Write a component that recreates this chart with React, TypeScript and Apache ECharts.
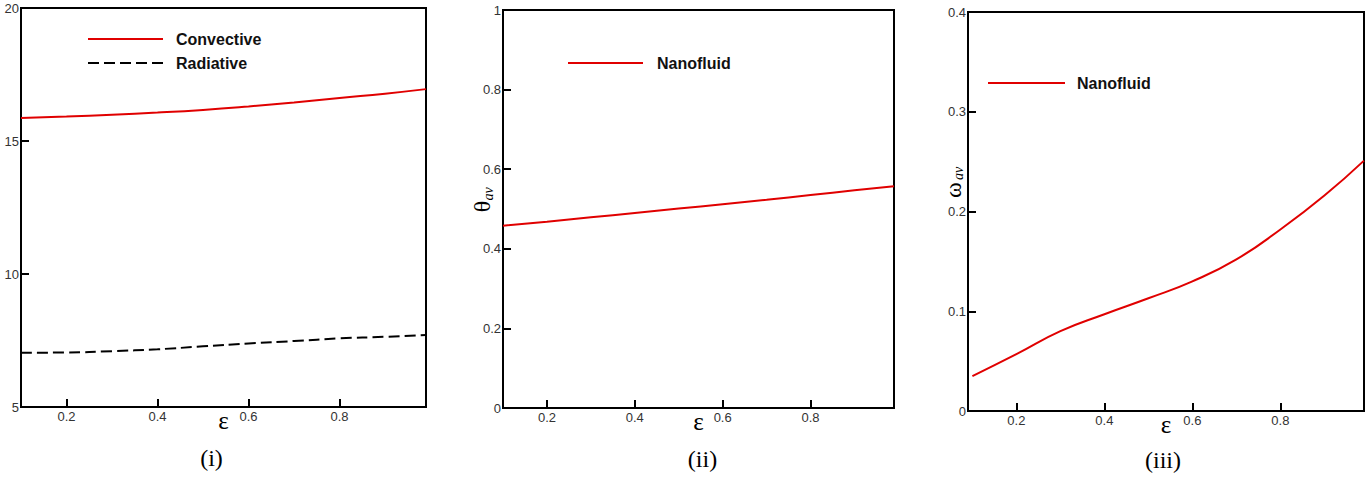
import React, { useEffect, useRef } from "react";
import * as echarts from "echarts";

// ---- data ----
const eps = [0.1, 0.2, 0.3, 0.4, 0.5, 0.6, 0.7, 0.8, 0.9, 0.99];
const convective = [15.86, 15.92, 15.99, 16.07, 16.17, 16.3, 16.45, 16.62, 16.78, 16.95];
const radiative = [7.04, 7.05, 7.1, 7.17, 7.28, 7.39, 7.48, 7.58, 7.64, 7.71];
const thetaAv = [0.458, 0.468, 0.479, 0.49, 0.501, 0.512, 0.523, 0.535, 0.547, 0.557];
const omegaAv = [0.035, 0.057, 0.08, 0.097, 0.113, 0.13, 0.152, 0.182, 0.216, 0.251];
const xTicks = [0.2, 0.4, 0.6, 0.8];
const captions = ["(i)", "(ii)", "(iii)"];
const legendNames = ["Convective", "Radiative", "Nanofluid"];

const RED = "#e00000";
const pairs = (ys: number[]) => eps.map((x, i) => [x, ys[i]]);

export default function App() {
  const ref = useRef<HTMLDivElement>(null);
  useEffect(() => {
    const chart = echarts.init(ref.current!, null, { renderer: "svg" });
    const grids = [
      { left: 21, top: 8, width: 405, height: 399 },
      { left: 503, top: 10, width: 391, height: 398 },
      { left: 968, top: 12, width: 396, height: 399 },
    ];
    const xMins = [0.1, 0.1, 0.09];
    const yDefs = [
      { min: 5, max: 20, interval: 5 },
      { min: 0, max: 1, interval: 0.2 },
      { min: 0, max: 0.4, interval: 0.1 },
    ];
    const lbl = { fontFamily: "Liberation Sans", fontSize: 13, color: "#333" };
    const legText = { fontFamily: "Liberation Sans", fontWeight: "bold", fontSize: 16, fill: "#111", verticalAlign: "middle" };
    const option: any = {
      animation: false,
      backgroundColor: "#fff",
      grid: grids.map((g) => ({ ...g, show: true, borderColor: "#000", borderWidth: 2, backgroundColor: "transparent" })),
      xAxis: grids.map((_, i) => ({
        type: "value",
        gridIndex: i,
        min: xMins[i],
        max: 0.99,
        name: "ε",
        nameLocation: "middle",
        nameGap: 1,
        nameMoveOverlap: false,
        nameTextStyle: { fontFamily: "Liberation Serif", fontSize: 25, color: "#000" },
        axisLine: { show: true, onZero: false, lineStyle: { color: "#000", width: 2 } },
        axisTick: { show: true, inside: true, length: 8, customValues: xTicks, lineStyle: { color: "#000", width: 2 } },
        axisLabel: { ...lbl, margin: 3, customValues: xTicks },
        splitLine: { show: false },
      })),
      yAxis: grids.map((_, i) => ({
        type: "value",
        gridIndex: i,
        ...yDefs[i],
        axisLine: { show: true, onZero: false, lineStyle: { color: "#000", width: 2 } },
        axisTick: { show: true, inside: true, length: 8, lineStyle: { color: "#000", width: 2 } },
        axisLabel: { ...lbl, margin: 2 },
        splitLine: { show: false },
      })),
      series: [
        { name: legendNames[0], type: "line", xAxisIndex: 0, yAxisIndex: 0, data: pairs(convective), smooth: true, symbol: "none", lineStyle: { color: RED, width: 2 } },
        { name: legendNames[1], type: "line", xAxisIndex: 0, yAxisIndex: 0, data: pairs(radiative), smooth: true, symbol: "none", lineStyle: { color: "#000", width: 2, type: [11, 5] } },
        { name: legendNames[2], type: "line", xAxisIndex: 1, yAxisIndex: 1, data: pairs(thetaAv), smooth: true, symbol: "none", lineStyle: { color: RED, width: 2 } },
        { name: legendNames[2], type: "line", xAxisIndex: 2, yAxisIndex: 2, data: pairs(omegaAv), smooth: true, symbol: "none", lineStyle: { color: RED, width: 2 } },
      ],
      graphic: [
        // legends
        { type: "line", shape: { x1: 88, y1: 39, x2: 163, y2: 39 }, style: { stroke: RED, lineWidth: 2 } },
        { type: "text", x: 176, y: 39, style: { ...legText, text: legendNames[0] } },
        { type: "line", shape: { x1: 88, y1: 63, x2: 163, y2: 63 }, style: { stroke: "#000", lineWidth: 2, lineDash: [11, 5] } },
        { type: "text", x: 176, y: 63, style: { ...legText, text: legendNames[1] } },
        { type: "line", shape: { x1: 568, y1: 63, x2: 643, y2: 63 }, style: { stroke: RED, lineWidth: 2 } },
        { type: "text", x: 657, y: 63, style: { ...legText, text: legendNames[2] } },
        { type: "line", shape: { x1: 988, y1: 83, x2: 1065, y2: 83 }, style: { stroke: RED, lineWidth: 2 } },
        { type: "text", x: 1077, y: 83, style: { ...legText, text: legendNames[2] } },
        // y-axis names
        { type: "text", x: 481.5, y: 206.5, rotation: Math.PI / 2, style: { text: "θ", fontFamily: "Liberation Serif", fontSize: 24, fill: "#000", align: "center", verticalAlign: "middle" } },
        { type: "text", x: 488, y: 194, rotation: Math.PI / 2, style: { text: "av", fontFamily: "Liberation Serif", fontStyle: "italic", fontSize: 14, fill: "#000", align: "center", verticalAlign: "middle" } },
        { type: "text", x: 952.5, y: 190, rotation: Math.PI / 2, style: { text: "ω", fontFamily: "Liberation Serif", fontSize: 24, fill: "#000", align: "center", verticalAlign: "middle" } },
        { type: "text", x: 958, y: 173.5, rotation: Math.PI / 2, style: { text: "av", fontFamily: "Liberation Serif", fontStyle: "italic", fontSize: 14, fill: "#000", align: "center", verticalAlign: "middle" } },
        // captions
        { type: "text", x: 211.5, y: 458, style: { text: captions[0], fontFamily: "Liberation Serif", fontSize: 24, fill: "#000", align: "center", verticalAlign: "middle" } },
        { type: "text", x: 702.5, y: 459, style: { text: captions[1], fontFamily: "Liberation Serif", fontSize: 24, fill: "#000", align: "center", verticalAlign: "middle" } },
        { type: "text", x: 1163, y: 460, style: { text: captions[2], fontFamily: "Liberation Serif", fontSize: 24, fill: "#000", align: "center", verticalAlign: "middle" } },
      ],
    };
    chart.setOption(option);
    return () => chart.dispose();
  }, []);
  return <div ref={ref} style={{ position: "fixed", left: 0, top: 0, width: 1367, height: 480, background: "#fff" }} />;
}
